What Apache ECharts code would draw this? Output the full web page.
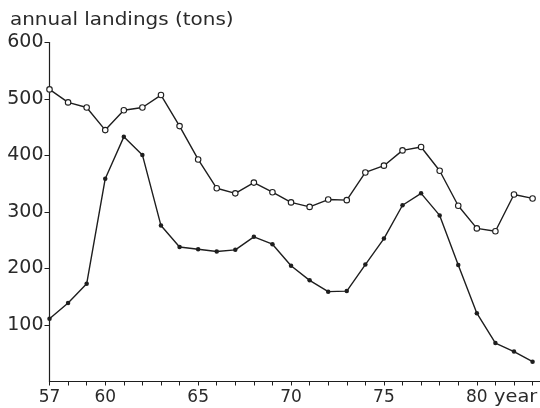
<!DOCTYPE html>
<html>
<head>
<meta charset="utf-8">
<script src="https://cdn.jsdelivr.net/npm/echarts@6/dist/echarts.min.js"></script>
<style>
html,body{margin:0;padding:0;background:#fff;}
#chart{width:540px;height:408px;}
</style>
</head>
<body>
<div id="chart"></div>
<script>
// Data
var years = [57,58,59,60,61,62,63,64,65,66,67,68,69,70,71,72,73,74,75,76,77,78,79,80,81,82,83];
var upperSeries = [517,494,485,445,480,485,507,452,393,342,333,352,335,317,309,322,321,370,382,409,415,373,311,271,266,331,324];
var lowerSeries = [111,139,173,359,433,401,276,238,234,230,233,256,243,205,179,159,160,207,253,312,333,294,206,121,68,53,35];
var xTickLabels = [57,60,65,70,75,80];
var yTickLabels = [100,200,300,400,500,600];
var titleText = 'annual landings (tons)';
var xUnitText = 'year';

function pairs(xs, ys){ return xs.map(function(x,i){ return [x, ys[i]]; }); }

var ink = '#1e1e1e';
var chart = echarts.init(document.getElementById('chart'), null, {renderer:'canvas'});
chart.setOption({
  animation:false,
  backgroundColor:'#fff',
  grid:{left:49.5, right:0, top:42.5, bottom:26.5, containLabel:false},
  xAxis:{
    type:'value', min:57, max:83.4,
    axisLine:{show:true, lineStyle:{color:ink, width:1.2}},
    axisTick:{show:true, customValues:years, length:4, inside:false, lineStyle:{color:ink, width:1}},
    axisLabel:{show:true, customValues:xTickLabels, margin:8, color:'#2a2a2a', fontFamily:'DejaVu Sans', fontSize:17},
    splitLine:{show:false}
  },
  yAxis:{
    type:'value', min:0, max:600, interval:100,
    axisLine:{show:true, lineStyle:{color:ink, width:1.2}},
    axisTick:{show:true, customValues:yTickLabels, length:5, inside:false, lineStyle:{color:ink, width:1}},
    axisLabel:{show:true, customValues:yTickLabels, margin:6, color:'#2a2a2a', fontFamily:'DejaVu Sans', fontSize:19},
    splitLine:{show:false}
  },
  graphic:[
    {type:'text', x:10, y:20, scaleX:1.14, style:{text:titleText, font:'17.5px "DejaVu Sans"', fill:'#2a2a2a', align:'left', verticalAlign:'middle'}},
    {type:'text', x:494, y:397.5, scaleX:1.14, style:{text:xUnitText, font:'17px "DejaVu Sans"', fill:'#2a2a2a', align:'left', verticalAlign:'middle'}}
  ],
  series:[
    {type:'line', data:pairs(years, upperSeries), symbol:'circle', symbolSize:5.5, showSymbol:true,
     lineStyle:{color:ink, width:1.4}, itemStyle:{color:'#fff', borderColor:ink, borderWidth:1.1}, z:3},
    {type:'line', data:pairs(years, lowerSeries), symbol:'circle', symbolSize:4.5, showSymbol:true,
     lineStyle:{color:ink, width:1.4}, itemStyle:{color:ink, borderColor:ink, borderWidth:0}, z:3}
  ]
});
</script>
</body>
</html>
